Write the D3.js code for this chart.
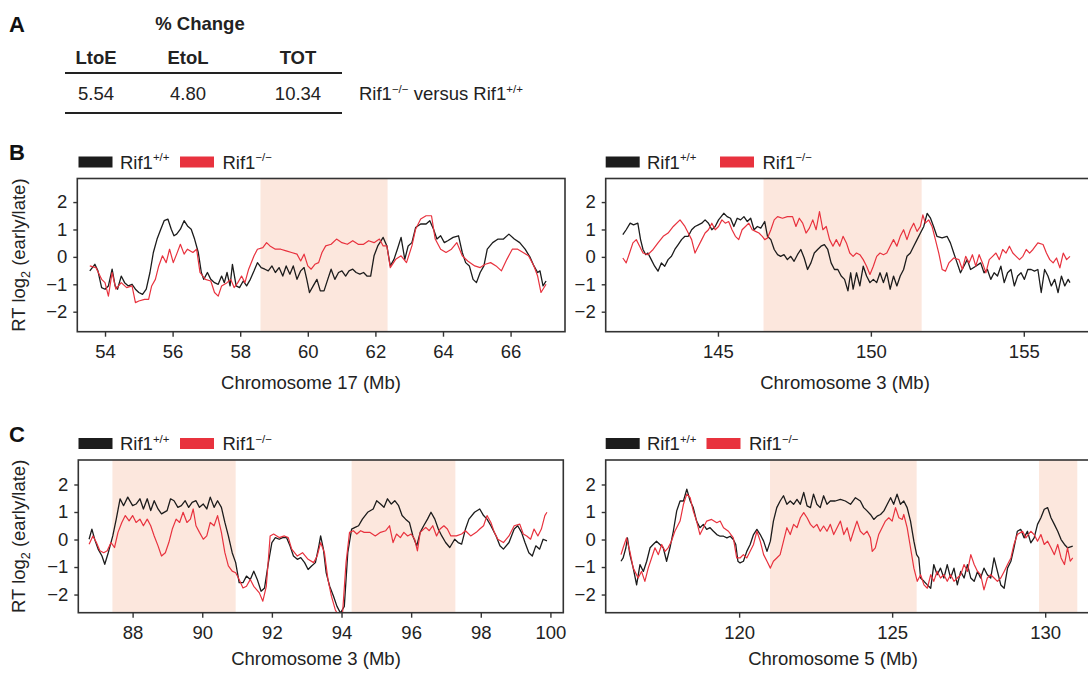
<!DOCTYPE html>
<html><head><meta charset="utf-8">
<script src="https://cdn.jsdelivr.net/npm/d3@7"></script>
<style>html,body{margin:0;padding:0;background:#fff;}svg{display:block;}</style>
</head><body>
<svg id="chart" width="1088" height="673"></svg>
<script>
// ---------------- DATA ----------------
const tableHeaders = ["LtoE", "EtoL", "TOT"];
const tableValues = ["5.54", "4.80", "10.34"];

const bLeftTicks = [54, 56, 58, 60, 62, 64, 66];
const bRightTicks = [145, 150, 155];
const cLeftTicks = [88, 90, 92, 94, 96, 98, 100];
const cRightTicks = [120, 125, 130];
const yTicks = [-2, -1, 0, 1, 2];

const bLeftShades = [[58.6, 62.36]];
const bRightShades = [[146.49, 151.66]];
const cLeftShades = [[87.42, 90.96], [94.29, 97.27]];
const cRightShades = [[121.01, 125.8], [129.8, 131.05]];

// Chromosome 17 (Mb) — Rif1+/+
const bLeftWT = [[53.55,-0.51],[53.70,-0.27],[53.79,-0.51],[53.9,-1.12],[54.0,-1.18],[54.1,-1.06],[54.21,-0.45],[54.3,-1.06],[54.37,-1.18],[54.48,-0.70],[54.58,-0.94],[54.69,-1.06],[54.8,-1.0],[54.9,-1.18],[55.0,-1.3],[55.11,-1.37],[55.22,-1.18],[55.33,-0.57],[55.43,0.16],[55.54,0.65],[55.65,1.01],[55.75,1.32],[55.86,1.38],[55.96,1.01],[56.04,0.77],[56.12,0.83],[56.23,1.01],[56.34,1.32],[56.44,1.13],[56.55,1.01],[56.65,0.65],[56.76,0.16],[56.85,-0.57],[56.92,-0.82],[57.03,-0.57],[57.13,-0.82],[57.24,-0.94],[57.35,-1.0],[57.45,-0.70],[57.53,-0.94],[57.61,-0.57],[57.7,-1.06],[57.77,-0.27],[57.88,-1.06],[57.98,-1.12],[58.09,-0.88],[58.19,-1.06],[58.3,-0.82],[58.41,-0.51],[58.51,-0.21],[58.62,-0.39],[58.73,-0.45],[58.83,-0.51],[58.94,-0.33],[59.04,-0.57],[59.15,-0.39],[59.26,-0.70],[59.36,-0.33],[59.47,-0.63],[59.57,-0.33],[59.68,-0.82],[59.79,-0.51],[59.89,-0.39],[59.97,-0.82],[60.05,-1.30],[60.16,-1.06],[60.27,-0.82],[60.37,-1.24],[60.48,-1.24],[60.59,-0.82],[60.69,-0.45],[60.8,-0.82],[60.91,-0.57],[61.01,-0.51],[61.12,-0.70],[61.22,-0.51],[61.33,-0.45],[61.43,-0.57],[61.54,-0.63],[61.65,-0.57],[61.75,-0.70],[61.86,-0.70],[61.96,0.04],[62.07,0.40],[62.23,0.71],[62.34,0.40],[62.44,-0.33],[62.55,-0.09],[62.65,0.28],[62.76,0.71],[62.87,-0.09],[62.97,0.40],[63.08,0.52],[63.19,1.07],[63.34,1.20],[63.5,1.20],[63.61,1.32],[63.72,1.01],[63.82,0.65],[63.93,0.77],[64.04,0.52],[64.14,0.59],[64.3,0.71],[64.46,0.77],[64.57,0.16],[64.67,-0.21],[64.78,-0.33],[64.89,-0.82],[64.99,-0.94],[65.1,-0.57],[65.21,-0.33],[65.31,0.28],[65.47,0.52],[65.63,0.65],[65.79,0.65],[65.95,0.83],[66.11,0.65],[66.27,0.52],[66.43,0.28],[66.58,-0.02],[66.69,-0.33],[66.8,-0.57],[66.87,-0.51],[66.96,-1.06],[67.05,-0.88]];
// Chromosome 17 (Mb) — Rif1-/-
const bLeftKO = [[53.55,-0.33],[53.73,-0.39],[53.9,-0.82],[54.0,-0.94],[54.1,-1.43],[54.21,-0.57],[54.32,-1.18],[54.48,-0.94],[54.64,-1.12],[54.8,-1.06],[54.9,-1.67],[55.0,-1.61],[55.17,-1.55],[55.29,-1.55],[55.38,-1.06],[55.49,-0.82],[55.59,-0.33],[55.7,0.04],[55.81,-0.21],[55.91,0.28],[56.02,-0.21],[56.12,0.10],[56.23,0.46],[56.34,0.10],[56.44,0.28],[56.6,0.16],[56.71,0.28],[56.81,-0.57],[56.97,-0.82],[57.13,-0.88],[57.24,-1.30],[57.35,-1.43],[57.45,-1.06],[57.61,-0.94],[57.72,-0.82],[57.82,-1.12],[57.93,-0.94],[58.04,-0.70],[58.14,-0.94],[58.25,-0.45],[58.41,0.04],[58.51,0.28],[58.67,0.34],[58.78,0.52],[58.88,0.40],[59.04,0.28],[59.2,0.28],[59.36,0.22],[59.52,0.16],[59.68,0.10],[59.79,-0.15],[59.89,0.10],[60.0,-0.33],[60.1,-0.45],[60.21,-0.27],[60.32,-0.21],[60.42,0.16],[60.53,0.40],[60.69,0.46],[60.85,0.65],[61.01,0.52],[61.17,0.46],[61.33,0.59],[61.49,0.46],[61.65,0.46],[61.8,0.59],[61.96,0.52],[62.12,0.65],[62.23,0.40],[62.34,0.40],[62.44,-0.39],[62.6,-0.09],[62.76,0.04],[62.92,-0.21],[63.08,0.40],[63.19,1.01],[63.34,1.38],[63.5,1.50],[63.66,1.50],[63.77,0.65],[63.93,0.28],[64.09,0.16],[64.25,0.28],[64.41,0.52],[64.57,0.04],[64.73,-0.15],[64.94,-0.33],[65.1,-0.39],[65.25,-0.27],[65.41,-0.21],[65.57,-0.33],[65.73,-0.51],[65.89,-0.09],[66.05,0.28],[66.21,0.28],[66.37,0.16],[66.53,0.04],[66.69,-0.33],[66.8,-0.70],[66.9,-1.30],[67.05,-1.00]];

// Chromosome 3 (Mb), 142-157 — Rif1+/+
const bRightWT = [[141.89,0.81],[142.0,0.99],[142.13,1.23],[142.24,1.17],[142.38,1.23],[142.47,0.63],[142.55,0.27],[142.64,0.08],[142.71,0.14],[142.82,-0.10],[142.93,-0.34],[143.04,-0.52],[143.15,-0.22],[143.26,-0.34],[143.37,-0.10],[143.48,0.02],[143.59,0.27],[143.70,0.45],[143.81,0.63],[143.92,0.75],[144.03,0.75],[144.14,0.99],[144.25,1.11],[144.36,1.17],[144.47,1.23],[144.58,1.35],[144.69,1.23],[144.80,0.99],[144.91,1.11],[145.02,1.35],[145.19,1.59],[145.30,1.47],[145.41,1.41],[145.52,1.11],[145.63,1.41],[145.74,1.35],[145.85,1.47],[145.96,1.29],[146.07,1.41],[146.18,0.99],[146.29,1.11],[146.40,1.05],[146.53,1.29],[146.62,0.75],[146.73,0.63],[146.84,0.27],[146.95,0.08],[147.05,0.02],[147.16,0.08],[147.27,-0.10],[147.38,0.02],[147.49,-0.16],[147.60,0.08],[147.71,0.27],[147.82,-0.04],[147.93,-0.46],[148.04,-0.22],[148.15,0.14],[148.26,0.27],[148.37,0.39],[148.48,0.45],[148.59,0.27],[148.70,-0.22],[148.81,-0.46],[148.92,-0.46],[149.03,-0.70],[149.14,-0.82],[149.25,-1.24],[149.34,-0.58],[149.42,-1.18],[149.53,-0.58],[149.64,-1.06],[149.75,-0.34],[149.86,-0.70],[149.97,-0.94],[150.08,-0.82],[150.19,-0.94],[150.30,-0.58],[150.41,-0.94],[150.52,-0.58],[150.63,-1.18],[150.74,-0.70],[150.85,-1.06],[150.96,-0.70],[151.07,-0.46],[151.18,0.02],[151.29,0.14],[151.40,0.39],[151.51,0.63],[151.62,0.87],[151.73,1.11],[151.84,1.59],[151.95,1.41],[152.05,1.11],[152.16,0.75],[152.33,0.69],[152.49,0.75],[152.60,0.51],[152.71,0.14],[152.82,-0.22],[152.93,-0.58],[153.04,-0.34],[153.15,-0.10],[153.26,-0.46],[153.43,-0.34],[153.59,-0.22],[153.70,-0.58],[153.81,-0.46],[153.92,-0.82],[154.03,-0.58],[154.14,-0.70],[154.25,-0.34],[154.36,-0.94],[154.47,-0.58],[154.58,-0.46],[154.69,-1.06],[154.80,-0.70],[154.91,-0.58],[155.02,-0.82],[155.13,-0.46],[155.24,-0.46],[155.35,-0.52],[155.46,-0.46],[155.57,-1.30],[155.68,-0.46],[155.79,-0.70],[155.90,-1.06],[156.01,-0.82],[156.12,-1.30],[156.23,-0.70],[156.34,-1.06],[156.45,-0.82],[156.51,-0.94]];
// Chromosome 3 (Mb), 142-157 — Rif1-/-
const bRightKO = [[141.89,-0.04],[142.0,-0.22],[142.11,0.14],[142.22,0.51],[142.33,0.63],[142.44,0.39],[142.55,0.14],[142.71,0.08],[142.88,0.27],[143.04,0.51],[143.21,0.75],[143.37,0.87],[143.54,1.11],[143.76,1.35],[143.92,1.11],[144.03,0.87],[144.14,0.63],[144.25,0.14],[144.36,0.39],[144.47,0.63],[144.58,0.87],[144.69,0.99],[144.80,1.23],[144.91,0.99],[145.02,1.11],[145.13,1.35],[145.24,1.23],[145.35,1.29],[145.46,0.99],[145.57,0.75],[145.68,0.63],[145.79,0.99],[145.90,1.11],[146.01,1.23],[146.12,0.99],[146.23,0.93],[146.34,0.87],[146.45,0.75],[146.53,0.63],[146.62,0.69],[146.73,0.99],[146.84,1.35],[146.95,1.47],[147.11,1.41],[147.27,1.47],[147.44,1.47],[147.55,1.11],[147.66,1.41],[147.77,1.23],[147.88,0.87],[147.99,1.05],[148.10,1.35],[148.21,0.99],[148.32,1.65],[148.43,0.99],[148.54,1.11],[148.65,0.63],[148.76,0.39],[148.87,0.63],[148.98,0.39],[149.09,0.75],[149.20,0.51],[149.31,0.14],[149.42,0.02],[149.53,0.14],[149.64,0.08],[149.75,-0.10],[149.86,-0.34],[149.97,-0.64],[150.08,-0.34],[150.19,0.02],[150.30,0.14],[150.41,0.08],[150.52,0.14],[150.63,0.39],[150.74,0.63],[150.85,0.39],[150.96,0.75],[151.07,0.99],[151.18,0.63],[151.29,0.99],[151.40,1.23],[151.51,0.93],[151.62,1.11],[151.70,1.53],[151.78,1.23],[151.89,1.35],[152.0,1.11],[152.11,0.63],[152.22,0.14],[152.33,-0.46],[152.44,-0.52],[152.55,-0.22],[152.71,-0.04],[152.88,-0.10],[152.99,-0.46],[153.10,0.02],[153.21,-0.22],[153.32,0.08],[153.43,-0.34],[153.54,0.08],[153.65,-0.22],[153.76,-0.58],[153.87,-0.10],[153.98,0.02],[154.09,0.14],[154.20,-0.10],[154.31,0.27],[154.42,0.14],[154.53,0.39],[154.64,0.14],[154.75,0.02],[154.86,-0.10],[154.97,0.02],[155.08,0.27],[155.19,0.14],[155.30,0.27],[155.46,0.51],[155.63,0.45],[155.74,0.14],[155.85,-0.10],[155.96,-0.22],[156.07,-0.04],[156.18,-0.40],[156.29,0.14],[156.40,-0.10],[156.51,0.02]];

// Chromosome 3 (Mb), 87-100 — Rif1+/+
const cLeftWT = [[86.75,0.01],[86.83,0.38],[86.91,0.01],[87.01,-0.35],[87.12,-0.60],[87.2,-0.90],[87.30,-0.48],[87.43,0.13],[87.53,0.74],[87.64,1.48],[87.74,1.23],[87.86,1.54],[88.0,1.23],[88.10,1.29],[88.21,1.48],[88.31,1.11],[88.42,1.48],[88.52,1.05],[88.62,1.41],[88.73,1.11],[88.83,0.93],[88.99,1.05],[89.09,1.48],[89.19,1.41],[89.30,1.17],[89.40,1.23],[89.51,1.41],[89.61,1.17],[89.71,1.35],[89.82,1.41],[89.92,1.17],[90.03,1.29],[90.13,1.11],[90.23,1.54],[90.34,1.17],[90.44,1.41],[90.55,1.17],[90.65,0.62],[90.75,0.13],[90.86,-0.48],[90.96,-0.84],[91.06,-1.57],[91.17,-1.57],[91.27,-1.33],[91.38,-1.45],[91.48,-1.15],[91.58,-1.45],[91.69,-1.88],[91.79,-1.76],[91.90,-0.84],[92.0,-0.11],[92.10,0.07],[92.21,0.01],[92.31,0.07],[92.42,0.07],[92.52,-0.23],[92.62,-0.60],[92.73,-0.72],[92.83,-0.66],[92.94,-0.84],[93.04,-1.09],[93.14,-0.96],[93.25,-0.84],[93.35,-0.23],[93.40,0.13],[93.48,-0.35],[93.56,-1.21],[93.66,-1.70],[93.77,-2.06],[93.87,-2.43],[93.97,-2.67],[94.08,-2.43],[94.18,-0.48],[94.29,0.38],[94.39,0.44],[94.49,0.50],[94.60,0.74],[94.75,0.99],[94.91,1.11],[95.01,1.41],[95.12,1.29],[95.22,1.17],[95.32,1.48],[95.43,1.29],[95.53,1.41],[95.64,1.23],[95.74,0.87],[95.84,0.74],[95.95,0.62],[96.05,0.13],[96.16,-0.23],[96.26,0.26],[96.36,0.50],[96.47,0.74],[96.57,0.99],[96.68,0.74],[96.78,0.38],[96.88,0.13],[96.99,-0.11],[97.11,-0.29],[97.25,0.01],[97.35,-0.11],[97.45,-0.17],[97.56,0.38],[97.66,0.74],[97.82,0.99],[97.97,1.11],[98.08,0.87],[98.18,0.74],[98.29,0.50],[98.44,0.13],[98.55,-0.23],[98.65,-0.35],[98.81,-0.11],[98.96,0.38],[99.06,0.50],[99.17,0.26],[99.27,-0.11],[99.38,-0.48],[99.48,-0.60],[99.58,-0.23],[99.69,-0.35],[99.79,0.01],[99.90,-0.05]];
// Chromosome 3 (Mb), 87-100 — Rif1-/-
const cLeftKO = [[86.75,-0.17],[86.86,0.13],[86.96,-0.11],[87.06,-0.41],[87.17,-0.48],[87.27,-0.41],[87.38,-0.11],[87.48,-0.29],[87.58,0.26],[87.69,0.62],[87.79,0.87],[87.90,0.68],[88.0,0.87],[88.10,0.62],[88.21,0.74],[88.31,0.50],[88.42,0.74],[88.52,0.50],[88.62,0.13],[88.73,-0.23],[88.83,-0.60],[88.94,-0.48],[89.04,-0.11],[89.14,0.38],[89.25,0.74],[89.35,0.62],[89.45,0.99],[89.56,0.62],[89.66,0.74],[89.74,1.11],[89.82,0.50],[89.92,0.26],[90.03,0.01],[90.13,0.13],[90.23,0.62],[90.34,0.50],[90.44,0.87],[90.55,0.26],[90.65,-0.48],[90.75,-0.96],[90.86,-1.15],[90.96,-1.21],[91.06,-1.45],[91.17,-1.76],[91.27,-1.70],[91.38,-1.45],[91.48,-1.70],[91.64,-1.94],[91.74,-2.24],[91.84,-1.70],[91.95,0.13],[92.05,0.20],[92.21,0.07],[92.36,0.13],[92.47,0.07],[92.57,-0.35],[92.73,-0.60],[92.88,-0.48],[93.04,-0.72],[93.20,-0.84],[93.30,-0.60],[93.40,-0.11],[93.51,-0.48],[93.61,-1.45],[93.71,-2.06],[93.82,-2.55],[93.92,-2.79],[94.03,-2.67],[94.13,-0.84],[94.23,0.26],[94.34,0.32],[94.44,0.20],[94.55,0.32],[94.65,0.26],[94.81,0.26],[94.97,0.13],[95.12,0.26],[95.27,0.32],[95.38,0.50],[95.48,-0.11],[95.58,0.20],[95.69,0.07],[95.79,0.26],[95.90,0.13],[96.0,0.20],[96.10,0.01],[96.18,-0.41],[96.26,0.26],[96.42,0.44],[96.52,0.32],[96.62,0.50],[96.73,0.13],[96.83,0.38],[96.94,0.50],[97.04,0.38],[97.14,0.13],[97.30,0.13],[97.45,0.20],[97.56,0.32],[97.71,0.13],[97.87,0.26],[97.97,0.38],[98.08,0.50],[98.18,0.87],[98.29,0.62],[98.39,0.26],[98.49,0.01],[98.65,-0.11],[98.81,0.13],[98.96,0.50],[99.12,0.56],[99.22,0.20],[99.32,0.13],[99.43,0.01],[99.53,0.38],[99.64,0.13],[99.74,0.38],[99.84,0.87],[99.90,0.99]];

// Chromosome 5 (Mb) — Rif1+/+
const cRightWT = [[116.14,-0.79],[116.21,-0.67],[116.30,-0.30],[116.35,0.06],[116.43,-0.55],[116.54,-1.04],[116.65,-1.65],[116.76,-0.91],[116.87,-1.16],[116.98,-0.79],[117.09,-0.30],[117.19,-0.18],[117.30,-0.06],[117.41,-0.18],[117.52,-0.30],[117.63,-0.79],[117.74,-0.30],[117.85,0.30],[117.96,1.04],[118.07,1.40],[118.18,1.40],[118.29,1.83],[118.40,1.40],[118.50,1.16],[118.61,0.67],[118.72,0.43],[118.83,0.55],[118.94,0.37],[119.05,0.43],[119.16,0.30],[119.27,0.18],[119.38,0.12],[119.49,0.12],[119.60,0.06],[119.71,0.12],[119.81,0.0],[119.89,-0.18],[119.96,-0.79],[120.03,-0.85],[120.14,-0.79],[120.25,-0.43],[120.36,-0.18],[120.47,0.18],[120.58,0.37],[120.69,0.18],[120.80,-0.06],[120.91,-0.43],[121.02,-0.06],[121.12,0.67],[121.23,1.16],[121.34,1.40],[121.45,1.59],[121.56,1.28],[121.67,1.40],[121.78,1.28],[121.89,1.46],[122.0,1.28],[122.11,1.71],[122.22,1.22],[122.33,1.16],[122.43,1.65],[122.54,1.28],[122.65,1.16],[122.76,1.59],[122.87,1.28],[122.98,1.40],[123.14,1.40],[123.31,1.46],[123.47,1.40],[123.64,1.28],[123.80,1.52],[123.96,1.40],[124.07,1.16],[124.18,1.04],[124.29,0.91],[124.40,0.73],[124.51,0.85],[124.62,0.91],[124.73,1.04],[124.84,1.28],[124.95,1.52],[125.05,1.28],[125.16,1.65],[125.27,1.28],[125.38,1.40],[125.49,1.16],[125.60,0.67],[125.71,-0.06],[125.80,-0.55],[125.87,-0.67],[125.93,-1.40],[126.04,-1.52],[126.15,-1.65],[126.26,-1.77],[126.36,-0.91],[126.47,-1.28],[126.58,-1.04],[126.69,-1.40],[126.80,-0.91],[126.91,-1.40],[127.02,-1.04],[127.13,-1.65],[127.24,-1.16],[127.35,-1.40],[127.46,-0.91],[127.57,-1.40],[127.68,-1.52],[127.79,-1.16],[127.89,-1.40],[128.00,-1.04],[128.11,-1.28],[128.22,-1.40],[128.33,-0.67],[128.44,-1.16],[128.55,-1.65],[128.66,-1.77],[128.77,-1.04],[128.88,-0.79],[128.98,-0.30],[129.09,0.30],[129.20,0.37],[129.31,0.06],[129.42,0.30],[129.53,-0.12],[129.64,0.06],[129.75,0.55],[129.86,0.79],[129.97,1.10],[130.08,1.16],[130.19,0.79],[130.30,0.55],[130.41,0.30],[130.52,0.0],[130.63,-0.18],[130.73,-0.30],[130.90,-0.24]];
// Chromosome 5 (Mb) — Rif1-/-
const cRightKO = [[116.14,-0.55],[116.21,-0.30],[116.32,0.06],[116.43,-0.43],[116.54,-1.04],[116.70,-1.40],[116.81,-1.16],[116.92,-1.52],[117.03,-1.04],[117.14,-0.67],[117.25,-0.30],[117.36,-0.55],[117.47,-0.18],[117.58,-0.43],[117.68,-0.30],[117.79,-0.06],[117.90,0.30],[118.07,0.67],[118.18,1.28],[118.29,1.65],[118.40,1.52],[118.50,1.04],[118.61,0.67],[118.72,0.18],[118.83,0.43],[118.94,0.67],[119.10,0.73],[119.27,0.61],[119.38,0.67],[119.49,0.43],[119.65,0.30],[119.81,0.06],[119.92,-0.67],[120.03,-0.67],[120.14,-0.55],[120.25,-0.67],[120.36,-0.43],[120.47,-0.18],[120.58,0.30],[120.69,-0.06],[120.80,-0.55],[120.91,-0.79],[121.02,-1.04],[121.12,-0.79],[121.23,-0.67],[121.34,-0.55],[121.45,-0.06],[121.56,0.43],[121.67,0.18],[121.78,0.55],[121.89,0.43],[122.0,0.79],[122.11,0.98],[122.22,0.79],[122.33,0.55],[122.43,0.43],[122.54,0.55],[122.65,0.30],[122.76,0.49],[122.87,0.30],[122.98,0.55],[123.09,0.18],[123.20,0.43],[123.31,0.67],[123.42,0.18],[123.53,0.43],[123.64,-0.06],[123.74,0.30],[123.85,0.67],[123.96,0.30],[124.07,0.18],[124.18,0.30],[124.29,0.06],[124.35,-0.43],[124.45,-0.30],[124.56,0.18],[124.67,0.43],[124.78,0.67],[124.89,0.79],[125.0,0.67],[125.11,1.16],[125.22,0.79],[125.33,0.73],[125.38,0.91],[125.49,0.43],[125.60,-0.30],[125.71,-1.04],[125.82,-1.52],[125.93,-1.28],[126.04,-1.65],[126.15,-1.77],[126.26,-1.28],[126.36,-1.52],[126.47,-1.16],[126.58,-1.40],[126.69,-1.28],[126.80,-1.52],[126.91,-1.28],[127.02,-1.52],[127.13,-1.40],[127.24,-1.28],[127.35,-0.91],[127.46,-1.16],[127.57,-0.55],[127.68,-0.91],[127.79,-1.16],[127.89,-1.28],[128.00,-1.83],[128.11,-1.40],[128.22,-1.28],[128.33,-1.40],[128.44,-1.52],[128.55,-1.40],[128.66,-1.16],[128.77,-0.91],[128.88,-0.67],[128.98,-0.18],[129.09,0.18],[129.26,0.30],[129.37,0.06],[129.53,0.30],[129.64,0.18],[129.75,-0.06],[129.86,0.18],[129.97,-0.18],[130.08,-0.06],[130.19,-0.30],[130.30,-0.55],[130.41,-0.18],[130.52,-0.67],[130.63,-0.91],[130.73,-0.30],[130.82,-0.79],[130.90,-0.67]];

// ---------------- STYLE / LAYOUT ----------------
const FONT = "'Liberation Sans', Arial, Helvetica, sans-serif";
const FS = 18.5;
const BLACK = "#1c1c1c";
const RED = "#e8323e";
const SHADE = "#fce7dd";
const TXT = "#222";

const svg = d3.select("#chart");
svg.append("rect").attr("width", 1088).attr("height", 673).attr("fill", "#fff");

// ---------------- PANEL A: table ----------------
svg.append("text").attr("x", 9).attr("y", 32).attr("font-family", FONT).attr("font-size", 22)
  .attr("font-weight", "bold").attr("fill", "#111").text("A");
svg.append("text").attr("x", 200).attr("y", 30).attr("text-anchor", "middle").attr("font-family", FONT)
  .attr("font-size", FS).attr("font-weight", "bold").attr("fill", TXT).text("% Change");
const colCenters = {"LtoE": 96, "EtoL": 188, "TOT": 298};
svg.selectAll("text.hdr").data(tableHeaders).join("text").attr("class", "hdr")
  .attr("x", d => colCenters[d]).attr("y", 64).attr("text-anchor", "middle")
  .attr("font-family", FONT).attr("font-size", FS).attr("font-weight", "bold").attr("fill", TXT).text(d => d);
svg.selectAll("text.val").data(tableValues).join("text").attr("class", "val")
  .attr("x", (d, i) => colCenters[tableHeaders[i]]).attr("y", 100).attr("text-anchor", "middle")
  .attr("font-family", FONT).attr("font-size", FS).attr("fill", TXT).text(d => d);
svg.append("line").attr("x1", 65).attr("x2", 342).attr("y1", 73).attr("y2", 73).attr("stroke", "#222").attr("stroke-width", 2);
svg.append("line").attr("x1", 65).attr("x2", 342).attr("y1", 113).attr("y2", 113).attr("stroke", "#222").attr("stroke-width", 2);
const rowLab = svg.append("text").attr("x", 359).attr("y", 100).attr("font-family", FONT).attr("font-size", FS).attr("fill", TXT);
rowLab.append("tspan").text("Rif1");
rowLab.append("tspan").attr("font-size", 11.5).attr("dy", -7.5).text("\u2212/\u2212");
rowLab.append("tspan").attr("dy", 7.5).text(" versus Rif1");
rowLab.append("tspan").attr("font-size", 11.5).attr("dy", -7.5).text("+/+");

// panel letters
svg.append("text").attr("x", 9).attr("y", 160).attr("font-family", FONT).attr("font-size", 22)
  .attr("font-weight", "bold").attr("fill", "#111").text("B");
svg.append("text").attr("x", 9).attr("y", 442).attr("font-family", FONT).attr("font-size", 22)
  .attr("font-weight", "bold").attr("fill", "#111").text("C");

// ---------------- Panel drawing ----------------
let clipId = 0;
function supText(g, x, y, base, sup, size) {
  const t = g.append("text").attr("x", x).attr("y", y).attr("font-family", FONT).attr("font-size", size).attr("fill", TXT);
  t.append("tspan").text(base);
  t.append("tspan").attr("font-size", size * 0.62).attr("dy", -size * 0.4).text(sup);
  return t;
}

function drawPanel(cfg) {
  const x = d3.scaleLinear().domain(cfg.xDomain).range([cfg.left, cfg.right]);
  const y = d3.scaleLinear().domain(cfg.yDomain).range([cfg.bottom, cfg.top]);
  const g = svg.append("g");
  const id = "clip" + (clipId++);
  g.append("clipPath").attr("id", id).append("rect")
    .attr("x", cfg.left).attr("y", cfg.top).attr("width", cfg.right - cfg.left).attr("height", cfg.bottom - cfg.top);
  const inner = g.append("g").attr("clip-path", `url(#${id})`);
  inner.selectAll("rect.shade").data(cfg.shades).join("rect").attr("class", "shade")
    .attr("x", d => x(d[0])).attr("width", d => x(d[1]) - x(d[0]))
    .attr("y", cfg.top).attr("height", cfg.bottom - cfg.top).attr("fill", SHADE);
  const line = d3.line().x(d => x(d[0])).y(d => y(d[1]));
  inner.append("path").datum(cfg.wt).attr("d", line).attr("fill", "none").attr("stroke", BLACK).attr("stroke-width", 1.3).attr("stroke-linejoin", "round");
  inner.append("path").datum(cfg.ko).attr("d", line).attr("fill", "none").attr("stroke", RED).attr("stroke-width", 1.2).attr("stroke-linejoin", "round");
  // frame
  g.append("rect").attr("x", cfg.left).attr("y", cfg.top).attr("width", cfg.right - cfg.left).attr("height", cfg.bottom - cfg.top)
    .attr("fill", "none").attr("stroke", "#333").attr("stroke-width", 1.6);
  // axes
  const xAxis = g.append("g").attr("transform", `translate(0,${cfg.bottom})`)
    .call(d3.axisBottom(x).tickValues(cfg.xTicks).tickSize(5).tickPadding(8).tickFormat(d3.format("d")));
  xAxis.select(".domain").remove();
  xAxis.selectAll("line").attr("stroke", "#333").attr("stroke-width", 1.4);
  xAxis.selectAll("text").attr("font-family", FONT).attr("font-size", FS).attr("fill", TXT);
  const yAxis = g.append("g").attr("transform", `translate(${cfg.left},0)`)
    .call(d3.axisLeft(y).tickValues(yTicks).tickSize(4).tickPadding(6).tickFormat(d => d < 0 ? "\u2212" + Math.abs(d) : d));
  yAxis.select(".domain").remove();
  yAxis.selectAll("line").attr("stroke", "#333").attr("stroke-width", 1.4);
  yAxis.selectAll("text").attr("font-family", FONT).attr("font-size", FS).attr("fill", TXT);
  // axis title
  g.append("text").attr("x", cfg.titleX).attr("y", cfg.titleY).attr("text-anchor", "middle")
    .attr("font-family", FONT).attr("font-size", FS).attr("fill", TXT).text(cfg.title);
  // legend
  const L = cfg.legend;
  g.append("rect").attr("x", L.r1).attr("y", L.cy - 5.5).attr("width", 34).attr("height", 11).attr("fill", BLACK);
  supText(g, L.t1, L.cy + 6.5, "Rif1", "+/+", FS);
  g.append("rect").attr("x", L.r2).attr("y", L.cy - 5.5).attr("width", 34).attr("height", 11).attr("fill", RED);
  supText(g, L.t2, L.cy + 6.5, "Rif1", "\u2212/\u2212", FS);
  // y axis title (left panels only)
  if (cfg.yTitle) {
    const cy = (cfg.top + cfg.bottom) / 2;
    const t = g.append("text").attr("transform", `translate(25,${cy}) rotate(-90)`).attr("text-anchor", "middle")
      .attr("font-family", FONT).attr("font-size", FS).attr("fill", TXT);
    t.append("tspan").text("RT log");
    t.append("tspan").attr("font-size", 12.5).attr("dy", 5).text("2");
    t.append("tspan").attr("dy", -5).text(" (early/late)");
  }
}

drawPanel({left: 77.3, right: 565, top: 178.5, bottom: 331.7, xDomain: [53.18, 67.61], yDomain: [-2.73, 2.86],
  xTicks: bLeftTicks, shades: bLeftShades, wt: bLeftWT, ko: bLeftKO,
  title: "Chromosome 17 (Mb)", titleX: 311, titleY: 389, yTitle: true,
  legend: {r1: 78.5, t1: 120, r2: 180, t2: 222.5, cy: 162}});
drawPanel({left: 605.7, right: 1092, top: 178.5, bottom: 331.7, xDomain: [141.33, 157.23], yDomain: [-2.73, 2.86],
  xTicks: bRightTicks, shades: bRightShades, wt: bRightWT, ko: bRightKO,
  title: "Chromosome 3 (Mb)", titleX: 845, titleY: 389, yTitle: false,
  legend: {r1: 605.7, t1: 647, r2: 720, t2: 762.5, cy: 162}});
drawPanel({left: 78.3, right: 563.3, top: 460, bottom: 612.7, xDomain: [86.44, 100.37], yDomain: [-2.66, 2.89],
  xTicks: cLeftTicks, shades: cLeftShades, wt: cLeftWT, ko: cLeftKO,
  title: "Chromosome 3 (Mb)", titleX: 316, titleY: 665, yTitle: true,
  legend: {r1: 78.5, t1: 120, r2: 180, t2: 222.5, cy: 443.5}});
drawPanel({left: 605.7, right: 1092, top: 460, bottom: 612.7, xDomain: [115.64, 131.53], yDomain: [-2.66, 2.89],
  xTicks: cRightTicks, shades: cRightShades, wt: cRightWT, ko: cRightKO,
  title: "Chromosome 5 (Mb)", titleX: 833, titleY: 665, yTitle: false,
  legend: {r1: 605.7, t1: 647, r2: 706.5, t2: 749, cy: 443.5}});
</script>
</body></html>
